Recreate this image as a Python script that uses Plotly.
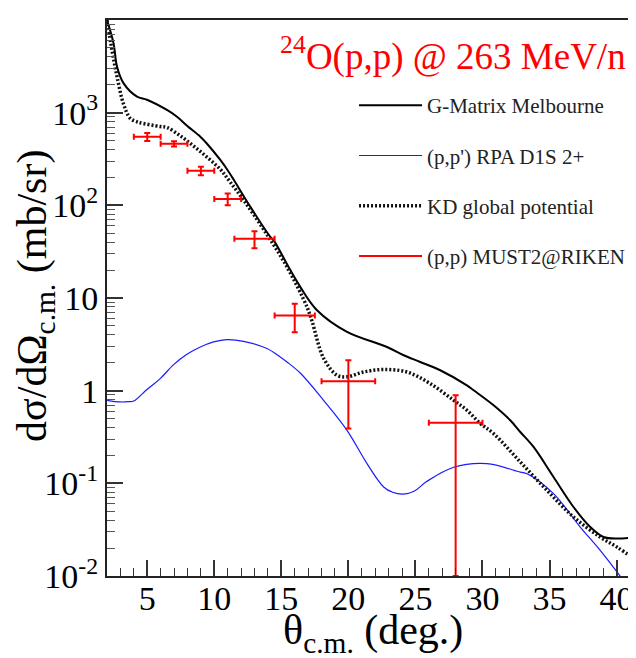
import plotly.graph_objects as go

# G-Matrix Melbourne (black solid)
gm_theta = [2.0, 2.49, 2.75, 3.24, 4.24, 4.98, 6.47, 7.22, 7.97, 8.96, 9.46, 10.45, 10.95,
            11.44, 12.69, 14.18, 14.42, 15.67, 16.41, 17.66, 19.9, 22.88, 24.12, 25.36,
            26.85, 28.84, 29.34, 30.83, 32.07, 32.82, 33.81, 35.3, 36.79, 38.04, 39.03,
            40.03, 41.5]
gm_xs = [10000, 5600, 3130, 2070, 1490, 1380, 1070, 904, 724, 550, 462, 309, 245,
         190, 96.4, 45.7, 42.1, 20.0, 13.2, 7.38, 4.31, 2.96, 2.41, 2.04,
         1.66, 1.14, 1.01, 0.695, 0.479, 0.358, 0.247, 0.117, 0.0555, 0.0337, 0.0263,
         0.0253, 0.0263]

# (p,p') RPA D1S 2+ (blue)
rpa_theta = [2.0, 2.99, 3.6, 4.0, 4.98, 5.97, 6.97, 7.96, 8.96, 9.95, 10.94, 12.19, 13.93,
             14.92, 15.42, 16.41, 18.15, 19.9, 21.39, 22.63, 23.3, 24.1, 24.9, 25.86,
             27.85, 30.33, 32.82, 33.32, 35.3, 37.29, 38.78, 40.28, 41.5]
rpa_xs = [0.787, 0.755, 0.76, 0.774, 1.03, 1.35, 1.91, 2.47, 2.96, 3.36, 3.56, 3.41, 2.85,
          2.31, 2.04, 1.55, 0.787, 0.373, 0.163, 0.0912, 0.080, 0.0765, 0.082, 0.105,
          0.149, 0.163, 0.132, 0.127, 0.0774, 0.0337, 0.0189, 0.0099, 0.0056]

# KD global potential (dotted)
kd_theta = [2.0, 2.37, 2.75, 3.24, 3.74, 4.24, 4.48, 5.97, 6.47, 7.47, 8.46, 9.46, 10.45,
            11.19, 12.19, 13.68, 15.42, 16.91, 17.29, 18.15, 19.15, 19.9, 21.13, 22.63,
            24.37, 26.11, 27.85, 28.84, 29.84, 30.83, 32.82, 34.81, 36.79, 38.78, 40.03,
            41.47]
kd_xs = [10000, 4740, 2440, 1230, 867, 798, 778, 708, 692, 562, 437, 331, 245,
         178, 114, 55.0, 21.7, 8.02, 5.62, 2.24, 1.47, 1.41, 1.59, 1.69,
         1.59, 1.19, 0.787, 0.614, 0.442, 0.344, 0.170, 0.0839, 0.0433, 0.0263, 0.0205,
         0.0148]

# (p,p) MUST2@RIKEN data
exp_theta = [5, 7, 9, 11, 13, 16, 20, 28]
exp_xs = [550, 461, 236, 117, 43.5, 6.47, 1.26, 0.45]
exp_dtheta = [1, 1, 1, 1, 1.5, 1.5, 2, 2]
exp_dxs = [55, 30, 25, 17, 9, 2.2, 0.87, 0.44]

ytick_vals = [0.01, 0.1, 1, 10, 100, 1000, 10000]
ytick_text = ["10<sup>-2</sup>", "10<sup>-1</sup>", "1", "10",
              "10<sup>2</sup>", "10<sup>3</sup>", "10<sup>4</sup>"]

FONT = "Liberation Serif"

fig = go.Figure()
fig.add_trace(go.Scatter(x=gm_theta, y=gm_xs, mode="lines", line_shape="spline",
                         line=dict(color="black", width=2),
                         name="G-Matrix Melbourne", legendgroup="a"))
fig.add_trace(go.Scatter(x=rpa_theta, y=rpa_xs, mode="lines", line_shape="spline",
                         line=dict(color="#1a1aff", width=1.2),
                         name="(p,p') RPA D1S 2+", legendgroup="b"))
fig.add_trace(go.Scatter(x=kd_theta, y=kd_xs, mode="lines", line_shape="spline",
                         line=dict(color="#111111", width=3.5, dash="2px,2px"),
                         name="KD global potential", legendgroup="c"))
fig.add_trace(go.Scatter(x=exp_theta, y=exp_xs, mode="markers",
                         marker=dict(color="red", size=2),
                         error_x=dict(type="data", array=exp_dtheta, color="red",
                                      thickness=2, width=3),
                         error_y=dict(type="data", array=exp_dxs, color="red",
                                      thickness=2, width=3),
                         showlegend=False))
fig.add_trace(go.Scatter(x=[None], y=[None], mode="lines",
                         line=dict(color="red", width=2),
                         name="(p,p) MUST2@RIKEN", legendgroup="d"))

fig.update_xaxes(range=[2, 41.45], showgrid=False, zeroline=False,
                 showline=True, linecolor="#222", linewidth=2, mirror=True,
                 ticks="inside", ticklen=16, tickwidth=1.5, tickcolor="#333",
                 tick0=0, dtick=5, ticklabelstandoff=-9,
                 minor=dict(ticks="inside", ticklen=8, dtick=1, tickcolor="#333",
                            tickwidth=1.2, showgrid=False),
                 tickfont=dict(family=FONT, size=34, color="black"))
fig.update_yaxes(type="log", range=[-2.0005, 4.0005], showgrid=False, zeroline=False,
                 showline=True, linecolor="#222", linewidth=2,
                 tickmode="array", tickvals=ytick_vals, ticktext=ytick_text,
                 ticks="inside", ticklen=16, tickwidth=1.5, tickcolor="#333",
                 minor=dict(ticks="inside", ticklen=8, dtick="D1", tickcolor="#555",
                            tickwidth=1.2, showgrid=False),
                 tickfont=dict(family=FONT, size=34, color="black"))

fig.add_annotation(text="<sup>24</sup>O(p,p) @ 263 MeV/n", xref="paper", yref="paper",
                   x=0.985, y=0.938, xanchor="right", yanchor="middle", showarrow=False,
                   font=dict(family=FONT, size=37, color="red"))
fig.add_annotation(text="θ<sub>c.m.</sub> (deg.)", xref="paper", yref="paper",
                   x=0.503, y=-0.102, xanchor="center", yanchor="middle", showarrow=False,
                   font=dict(family=FONT, size=42, color="black"))
fig.add_annotation(text="dσ/dΩ<sub>c.m.</sub> (mb/sr)", xref="paper", yref="paper",
                   x=-0.135, y=0.503, xanchor="center", yanchor="middle", showarrow=False,
                   textangle=-90, font=dict(family=FONT, size=42, color="black"))

# page body adds an 8px margin, so the figure is 8px smaller on each side
fig.update_layout(width=628, height=650, autosize=False,
                  margin=dict(l=99, r=0, t=12, b=82, autoexpand=False),
                  plot_bgcolor="white", paper_bgcolor="white",
                  font=dict(family=FONT, color="black"),
                  legend=dict(x=0.467, y=0.883, xanchor="left", yanchor="top",
                              bgcolor="rgba(0,0,0,0)", tracegroupgap=20,
                              itemwidth=63,
                              font=dict(family=FONT, size=21, color="#222")))

fig.write_html("out.html")
